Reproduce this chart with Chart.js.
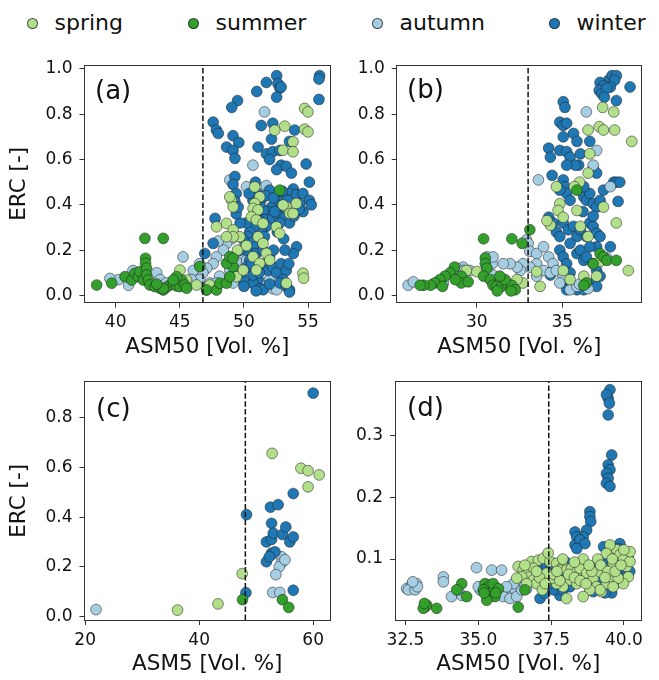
<!DOCTYPE html>
<html>
<head>
<meta charset="utf-8">
<script src="https://cdn.jsdelivr.net/npm/chart.js"></script>
<style>
html,body{margin:0;padding:0;background:#fff;width:659px;height:680px;overflow:hidden;font-family:'DejaVu Sans',sans-serif;}
canvas{position:absolute;}
.lab{position:absolute;font-size:26px;line-height:26px;color:#111;white-space:nowrap;}
.leg-m{position:absolute;width:11px;height:11px;border-radius:50%;box-sizing:border-box;border:0.7px solid rgba(30,30,30,0.75);}
.leg-t{position:absolute;font-size:22px;line-height:22px;color:#111;white-space:nowrap;}
</style>
</head>
<body>
<div id="legend"></div>
<canvas id="ca" width="345" height="337" style="left:0px;top:35px"></canvas>
<canvas id="cb" width="314" height="337" style="left:345px;top:35px"></canvas>
<canvas id="cc" width="345" height="328" style="left:0px;top:352px"></canvas>
<canvas id="cd" width="314" height="328" style="left:345px;top:352px"></canvas>
<div class="lab" style="left:95px;top:77px">(a)</div>
<div class="lab" style="left:407px;top:76px">(b)</div>
<div class="lab" style="left:96px;top:395px">(c)</div>
<div class="lab" style="left:407px;top:394px">(d)</div>
<script>
// ---------------- data ----------------
const seasons = ['spring', 'summer', 'autumn', 'winter'];

// panel (a): ASM50 vs ERC
const aSpring = [[54.73,0.825],[54.99,0.81],[53.18,0.747],[52.4,0.729],[54.73,0.734],[54.99,0.722],[53.83,0.678],[53.05,0.641],[50.84,0.479],[51.23,0.435],[50.84,0.406],[50.71,0.384],[51.1,0.377],[50.58,0.347],[50.97,0.333],[51.49,0.318],[49.03,0.421],[49.16,0.391],[48.9,0.435],[47.86,0.303],[48.64,0.318],[49.16,0.289],[49.68,0.259],[49.16,0.259],[48.64,0.259],[53.31,0.391],[53.57,0.362],[53.83,0.362],[53.05,0.399],[54.09,0.406],[52.53,0.303],[52.79,0.274],[51.1,0.259],[51.49,0.23],[51.75,0.186],[52.01,0.156],[50.71,0.171],[51.23,0.142],[50.97,0.112],[54.6,0.098],[54.65,0.076],[53.31,0.054],[49.42,0.083],[49.94,0.112],[46.3,0.046],[47.34,0.046],[45.01,0.112],[45.53,0.068],[53.83,0.634],[49.5,0.2],[50.2,0.22]];
const aSummer = [[38.52,0.046],[39.69,0.054],[40.73,0.083],[41.25,0.068],[41.5,0.098],[41.76,0.083],[41.89,0.105],[42.15,0.068],[42.28,0.252],[43.71,0.252],[42.33,0.164],[42.33,0.142],[42.41,0.12],[42.41,0.09],[42.54,0.068],[42.67,0.046],[43.06,0.039],[43.45,0.032],[43.71,0.024],[43.97,0.036],[44.23,0.046],[44.49,0.054],[44.75,0.042],[45.01,0.039],[45.14,0.068],[45.4,0.046],[45.53,0.032],[44.75,0.083],[44.49,0.068],[46.56,0.127],[47.08,0.024],[47.86,0.024],[48.12,0.054],[48.64,0.054],[48.9,0.083],[49.16,0.127],[48.64,0.142],[48.9,0.171],[49.16,0.164],[52.79,0.465],[43.7,0.03],[43.2,0.05]];
const aAutumn = [[51.6,0.81],[50.7,0.575],[48.9,0.51],[50.2,0.48],[51.75,0.485],[49.05,0.25],[48.65,0.23],[48.4,0.2],[47.85,0.17],[47.6,0.14],[47.1,0.12],[46.8,0.1],[46.55,0.07],[47.35,0.055],[48.1,0.085],[48.9,0.11],[49.15,0.14],[49.7,0.17],[50.2,0.155],[50.7,0.125],[48.9,0.07],[49.7,0.07],[47.85,0.055],[47.1,0.025],[49.15,0.055],[50.7,0.055],[51.75,0.055],[52.25,0.03],[52.55,0.025],[52.0,0.07],[45.25,0.17],[41.35,0.11],[40.2,0.07],[39.55,0.075],[41.0,0.045],[43.2,0.1],[43.45,0.07],[43.95,0.055],[46.05,0.11],[46.55,0.14],[45.9,0.07],[50.45,0.2],[48.0,0.24],[49.4,0.15]];
const aWinter = [[55.9,0.97],[55.85,0.955],[55.85,0.865],[52.55,0.97],[51.75,0.94],[52.65,0.935],[52.8,0.915],[52.55,0.875],[52.9,0.92],[51.0,0.9],[49.5,0.86],[49.05,0.83],[47.6,0.765],[47.85,0.73],[48.0,0.715],[51.35,0.75],[52.25,0.76],[53.95,0.73],[52.15,0.69],[51.1,0.655],[49.15,0.705],[49.6,0.675],[48.65,0.655],[49.15,0.64],[49.3,0.605],[53.55,0.68],[51.75,0.625],[52.25,0.635],[52.8,0.64],[52.0,0.6],[54.85,0.58],[52.9,0.575],[53.3,0.57],[52.55,0.555],[49.3,0.525],[49.15,0.49],[49.4,0.45],[55.1,0.5],[53.7,0.54],[53.85,0.47],[53.55,0.45],[54.1,0.445],[53.05,0.435],[54.6,0.45],[55.1,0.42],[54.6,0.37],[54.35,0.405],[55.25,0.4],[52.9,0.415],[52.55,0.4],[52.15,0.39],[51.9,0.37],[51.5,0.375],[51.25,0.405],[50.95,0.36],[50.7,0.345],[51.6,0.335],[52.25,0.34],[52.65,0.355],[52.9,0.36],[53.3,0.375],[53.2,0.345],[53.55,0.32],[52.8,0.32],[51.75,0.305],[51.35,0.29],[50.85,0.305],[50.45,0.28],[50.2,0.32],[50.3,0.26],[50.7,0.235],[50.95,0.215],[50.2,0.2],[50.45,0.155],[50.95,0.185],[51.5,0.2],[52.0,0.17],[51.35,0.14],[51.9,0.11],[52.25,0.125],[52.55,0.1],[52.9,0.14],[53.3,0.11],[53.05,0.07],[52.8,0.055],[53.3,0.04],[53.55,0.025],[51.1,0.07],[50.7,0.055],[51.25,0.03],[51.5,0.025],[50.95,0.02],[50.7,0.09],[50.2,0.125],[49.95,0.07],[49.7,0.32],[49.4,0.36],[49.3,0.415],[49.55,0.39],[47.75,0.34],[47.6,0.23],[49.7,0.2],[46.95,0.185],[54.1,0.215],[53.85,0.185],[53.55,0.015],[52.0,0.465],[51.5,0.435],[50.7,0.42],[51.1,0.45],[51.0,0.42],[51.7,0.44],[52.3,0.43],[53.0,0.46],[53.4,0.42],[52.4,0.37],[51.2,0.33],[53.9,0.35],[54.3,0.38],[52.6,0.28],[53.1,0.25],[51.6,0.26],[50.6,0.14],[51.2,0.1],[52.0,0.05],[52.3,0.2],[53.5,0.14],[50.0,0.04],[49.9,0.25],[50.9,0.5],[50.4,0.45],[49.8,0.1],[53.2,0.2]];
const aThreshold = 46.8;

// panel (b): ASM50 vs ERC
const bSpring = [[37.35,0.83],[38.0,0.81],[36.5,0.73],[37.15,0.745],[37.4,0.73],[38.05,0.73],[39.05,0.68],[36.6,0.625],[34.65,0.48],[34.85,0.405],[34.75,0.375],[35.05,0.345],[34.3,0.31],[34.1,0.33],[36.5,0.54],[37.4,0.39],[38.15,0.32],[38.85,0.11],[36.05,0.305],[36.5,0.26],[35.85,0.375],[33.5,0.105],[33.7,0.04],[35.05,0.11],[35.45,0.07],[32.7,0.055],[32.35,0.07],[36.25,0.085],[37.0,0.085],[30.0,0.105],[29.4,0.11],[36.0,0.5],[35.7,0.48],[37.2,0.15]];
const bSummer = [[30.4,0.25],[32.05,0.25],[32.65,0.23],[30.5,0.165],[30.5,0.14],[30.6,0.12],[30.4,0.085],[30.8,0.07],[30.95,0.045],[31.15,0.04],[31.45,0.04],[31.75,0.055],[32.05,0.045],[32.25,0.025],[31.65,0.07],[31.35,0.085],[28.7,0.125],[28.45,0.1],[28.15,0.085],[27.85,0.07],[27.55,0.055],[27.3,0.045],[26.9,0.045],[26.7,0.045],[29.1,0.085],[29.1,0.055],[28.75,0.07],[33.1,0.29],[37.2,0.185],[37.4,0.17],[37.6,0.155],[36.8,0.14],[36.4,0.055],[36.25,0.045],[38.15,0.155],[35.85,0.465],[28.0,0.04],[29.5,0.06],[32.0,0.02],[31.2,0.02]];
const bAutumn = [[36.4,0.81],[33.6,0.51],[37.0,0.64],[36.8,0.575],[37.8,0.48],[37.6,0.165],[32.9,0.245],[33.0,0.23],[33.1,0.195],[33.5,0.185],[33.9,0.215],[34.2,0.17],[34.45,0.14],[33.5,0.14],[33.9,0.11],[34.3,0.1],[34.65,0.11],[35.05,0.085],[34.85,0.055],[35.45,0.025],[35.85,0.04],[33.5,0.085],[33.1,0.125],[32.7,0.14],[32.55,0.11],[32.35,0.125],[31.95,0.14],[31.55,0.14],[31.15,0.07],[30.6,0.17],[30.9,0.14],[30.8,0.07],[30.95,0.09],[29.6,0.11],[29.2,0.125],[29.05,0.07],[26.0,0.045],[26.3,0.06],[28.85,0.12],[28.05,0.055],[29.25,0.11],[30.95,0.17],[36.0,0.05],[36.5,0.03]];
const bWinter = [[37.7,0.95],[37.9,0.97],[38.15,0.97],[38.05,0.95],[37.2,0.94],[37.4,0.925],[37.15,0.905],[37.3,0.89],[37.8,0.92],[37.6,0.915],[38.15,0.86],[38.95,0.92],[37.45,0.875],[35.05,0.855],[35.15,0.83],[34.85,0.765],[35.05,0.75],[35.25,0.76],[35.05,0.7],[35.65,0.715],[35.85,0.68],[34.2,0.65],[34.3,0.61],[34.85,0.64],[35.25,0.635],[35.45,0.61],[36.05,0.625],[35.95,0.575],[35.75,0.575],[35.25,0.575],[36.6,0.68],[36.8,0.56],[37.0,0.54],[34.4,0.53],[35.05,0.51],[35.15,0.48],[35.25,0.45],[34.85,0.465],[35.45,0.42],[35.85,0.48],[36.05,0.465],[36.25,0.435],[36.4,0.42],[36.6,0.45],[36.8,0.405],[37.0,0.39],[37.2,0.42],[37.4,0.465],[38.0,0.5],[38.15,0.5],[38.35,0.5],[38.25,0.415],[36.25,0.48],[34.2,0.345],[34.45,0.32],[34.65,0.28],[34.85,0.26],[35.05,0.32],[35.35,0.29],[35.65,0.305],[35.85,0.26],[36.05,0.29],[36.4,0.26],[36.6,0.32],[36.8,0.305],[37.0,0.275],[37.2,0.26],[37.0,0.215],[37.8,0.215],[36.8,0.35],[36.2,0.37],[34.85,0.2],[35.05,0.17],[35.25,0.14],[35.45,0.23],[35.85,0.185],[36.05,0.2],[36.25,0.155],[36.4,0.17],[36.6,0.215],[36.8,0.14],[37.0,0.11],[37.2,0.085],[35.45,0.1],[35.05,0.07],[35.45,0.055],[35.85,0.025],[36.25,0.025],[36.8,0.055],[35.25,0.025],[34.5,0.12],[34.3,0.09],[37.0,0.04]];
const bThreshold = 33.0;

// panel (c): ASM5 vs ERC
const cSpring = [[36.2,0.025],[43.3,0.05],[47.55,0.172],[52.8,0.657],[57.85,0.597],[59.1,0.587],[61.05,0.57],[59.1,0.522]];
const cSummer = [[47.6,0.067],[54.6,0.067],[55.7,0.036]];
const cAutumn = [[21.9,0.027],[53.1,0.252],[54.45,0.24],[54.45,0.215],[54.05,0.2],[53.45,0.168],[52.9,0.096],[54.15,0.096],[55.05,0.228]];
const cWinter = [[60.0,0.9],[48.3,0.41],[48.2,0.095],[56.5,0.495],[52.5,0.44],[53.85,0.45],[52.7,0.375],[51.8,0.3],[52.7,0.31],[53.0,0.335],[54.6,0.33],[55.2,0.36],[55.9,0.3],[56.5,0.32],[51.8,0.22],[52.7,0.255],[53.3,0.26],[56.5,0.105],[52.3,0.24]];
const cThreshold = 48.1;

// panel (d): ASM50 vs ERC
const dSpring = [[36.37,0.088],[36.54,0.082],[36.66,0.077],[36.77,0.071],[36.89,0.066],[37.0,0.06],[36.49,0.071],[36.32,0.069],[36.66,0.06],[36.83,0.096],[37.06,0.098],[37.23,0.101],[37.46,0.096],[37.69,0.093],[37.91,0.088],[37.8,0.082],[38.03,0.082],[38.2,0.085],[38.38,0.079],[38.49,0.085],[38.15,0.066],[37.91,0.055],[38.03,0.036],[37.69,0.06],[37.52,0.069],[37.35,0.077],[38.38,0.06],[38.72,0.077],[38.95,0.069],[39.06,0.055],[39.23,0.047],[39.4,0.06],[39.52,0.071],[39.29,0.085],[39.18,0.079],[39.63,0.093],[39.69,0.112],[39.75,0.115],[39.86,0.107],[39.98,0.099],[40.09,0.088],[40.21,0.096],[40.15,0.071],[39.98,0.06],[39.8,0.069],[39.63,0.055],[40.21,0.112],[39.52,0.123],[39.4,0.109],[39.18,0.05],[38.83,0.05],[38.6,0.039],[37.2,0.05],[37.4,0.11],[38.6,0.1],[39.1,0.1],[38.3,0.095],[37.9,0.1],[36.9,0.085],[37.1,0.07],[37.3,0.06],[37.6,0.075],[37.8,0.065],[38.1,0.075],[38.3,0.07],[38.5,0.065],[38.7,0.06],[38.9,0.08],[39.2,0.09],[39.45,0.08],[39.7,0.08],[39.9,0.09],[40.0,0.115],[39.6,0.1],[37.0,0.08],[36.6,0.09],[37.7,0.08],[38.8,0.09],[39.35,0.07]];
const dSummer = [[33.17,0.022],[33.23,0.025],[33.11,0.02],[33.57,0.02],[34.43,0.06],[34.6,0.039],[34.26,0.05],[35.23,0.06],[35.29,0.052],[35.4,0.058],[35.51,0.05],[35.34,0.039],[35.57,0.039],[35.29,0.033],[35.17,0.05],[35.51,0.06],[35.69,0.052],[36.37,0.022],[35.6,0.045],[35.2,0.045],[33.15,0.028],[36.6,0.05]];
const dAutumn = [[32.54,0.052],[32.71,0.058],[32.88,0.06],[32.6,0.05],[32.83,0.05],[32.91,0.055],[32.75,0.063],[33.8,0.071],[33.8,0.063],[34.08,0.039],[34.43,0.041],[34.94,0.086],[35.06,0.05],[35.46,0.082],[35.8,0.082],[35.86,0.05],[36.03,0.047],[36.14,0.05],[36.26,0.05],[35.86,0.039],[36.09,0.036],[36.32,0.039],[36.49,0.05],[36.66,0.052],[36.2,0.06],[35.97,0.055],[35.0,0.055],[34.3,0.05],[36.6,0.058]];
const dWinter = [[39.52,0.375],[39.46,0.361],[39.4,0.367],[39.5,0.353],[39.46,0.334],[39.58,0.269],[39.46,0.253],[39.52,0.245],[39.4,0.239],[39.46,0.231],[39.4,0.223],[39.52,0.218],[38.83,0.177],[38.83,0.169],[38.86,0.161],[38.72,0.147],[38.6,0.136],[38.32,0.144],[38.38,0.136],[38.32,0.123],[38.49,0.131],[38.66,0.125],[38.38,0.117],[37.06,0.088],[37.35,0.088],[37.46,0.082],[37.57,0.093],[37.12,0.036],[37.29,0.044],[37.8,0.041],[38.15,0.055],[37.91,0.069],[38.55,0.074],[38.6,0.088],[38.78,0.06],[38.95,0.047],[39.06,0.06],[39.75,0.104],[39.86,0.093],[39.98,0.107],[39.75,0.082],[39.98,0.077],[40.09,0.082],[40.15,0.104],[39.58,0.088],[39.63,0.071],[39.52,0.05],[39.23,0.066],[39.58,0.045],[39.86,0.125],[39.8,0.117],[38.0,0.095],[37.7,0.06],[37.6,0.05],[40.2,0.08],[39.3,0.12],[39.4,0.1],[37.2,0.07],[37.45,0.06],[37.9,0.05],[38.25,0.065],[38.9,0.055],[39.1,0.085],[39.35,0.045],[39.7,0.06],[40.1,0.095],[37.0,0.075]];
const dThreshold = 37.42;

// axis ticks and labels
const abYTicks = [0, 0.2, 0.4, 0.6, 0.8, 1.0];
const abYTickLabels = ['0.0', '0.2', '0.4', '0.6', '0.8', '1.0'];
const aXTicks = [40, 45, 50, 55];
const aXTickLabels = ['40', '45', '50', '55'];
const bXTicks = [30, 35];
const bXTickLabels = ['30', '35'];
const cXTicks = [20, 40, 60];
const cXTickLabels = ['20', '40', '60'];
const cYTicks = [0, 0.2, 0.4, 0.6, 0.8];
const cYTickLabels = ['0.0', '0.2', '0.4', '0.6', '0.8'];
const dXTicks = [32.5, 35, 37.5, 40];
const dXTickLabels = ['32.5', '35.0', '37.5', '40.0'];
const dYTicks = [0.1, 0.2, 0.3];
const dYTickLabels = ['0.1', '0.2', '0.3'];

// ---------------- styling ----------------
const COLORS = {spring: '#b2df8a', summer: '#33a02c', autumn: '#a6cee3', winter: '#1f78b4'};
const EDGE = 'rgba(30,30,30,0.75)';
const FRAME = '#333333';
const TXT = '#111111';
const FONT = "'DejaVu Sans', sans-serif";

// legend (HTML)
const legendCenters = [32, 193, 377, 554];
const legendEl = document.getElementById('legend');
seasons.forEach((s, i) => {
  const m = document.createElement('div');
  m.className = 'leg-m';
  m.style.left = (legendCenters[i] - 5.5) + 'px';
  m.style.top = '18px';
  m.style.background = COLORS[s];
  legendEl.appendChild(m);
  const t = document.createElement('div');
  t.className = 'leg-t';
  t.style.left = (legendCenters[i] + 22.5) + 'px';
  t.style.top = '12px';
  t.textContent = s;
  legendEl.appendChild(t);
});

function toPts(arr) { return arr.map(p => ({x: p[0], y: p[1]})); }

function makePanel(id, P) {
  const drawOrder = P.drawOrder; // first = top-most
  const datasets = [{
    type: 'line', label: 'threshold',
    data: [{x: P.threshold, y: P.yMin}, {x: P.threshold, y: P.yMax}],
    borderColor: '#111', borderWidth: 1.5, borderDash: [5.5, 2.4],
    pointRadius: 0, fill: false, showLine: true, xAxisID: 'x', yAxisID: 'y'
  }];
  drawOrder.forEach(s => {
    datasets.push({
      type: 'scatter', label: s, data: toPts(P.series[s]),
      backgroundColor: COLORS[s], borderColor: EDGE, borderWidth: 0.7,
      pointRadius: 5.4, pointHoverRadius: 5.4, xAxisID: 'x', yAxisID: 'y'
    });
  });
  const tickFont = {family: FONT, size: 17};
  const titleFont = {family: FONT, size: 21.5, lineHeight: 1};
  new Chart(document.getElementById(id), {
    type: 'scatter',
    data: {datasets},
    options: {
      responsive: false, animation: false, events: [], devicePixelRatio: 1,
      layout: {padding: {left: 0, top: P.padTop, right: P.padRight, bottom: 0}},
      plugins: {legend: {display: false}, tooltip: {enabled: false}},
      scales: {
        x: {
          type: 'linear', position: 'bottom', min: P.xMin, max: P.xMax, bounds: 'data',
          afterBuildTicks: s => { s.ticks = P.xTicks.map(v => ({value: v})); },
          afterFit: s => { s.height = P.xAxisH; },
          ticks: {autoSkip: false, maxRotation: 0, padding: 5, color: TXT, font: tickFont,
                  callback: (v, i) => P.xTickLabels[i]},
          grid: {display: true, drawOnChartArea: false, drawTicks: true, tickLength: 5, tickColor: FRAME, tickWidth: 1},
          border: {display: true, color: FRAME, width: 1},
          title: {display: true, text: P.xTitle, color: TXT, font: titleFont, padding: {top: 0, bottom: P.xTitlePadB}}
        },
        y: {
          type: 'linear', position: 'left', min: P.yMin, max: P.yMax, bounds: 'data',
          afterBuildTicks: s => { s.ticks = P.yTicks.map(v => ({value: v})); },
          afterFit: s => { s.width = P.yAxisW; },
          ticks: {autoSkip: false, padding: 7, color: TXT, font: tickFont,
                  callback: (v, i) => P.yTickLabels[i]},
          grid: {display: true, drawOnChartArea: false, drawTicks: true, tickLength: 5, tickColor: FRAME, tickWidth: 1},
          border: {display: true, color: FRAME, width: 1},
          title: {display: !!P.yTitle, text: P.yTitle || '', color: TXT, font: titleFont, padding: {top: 8.25, bottom: 0}}
        },
        x2: {
          type: 'linear', position: 'top', display: true, min: 0, max: 1,
          ticks: {display: false}, grid: {display: false, drawTicks: false},
          border: {display: true, color: FRAME, width: 1},
          afterFit: s => { s.height = 0; }
        },
        y2: {
          type: 'linear', position: 'right', display: true, min: 0, max: 1,
          ticks: {display: false}, grid: {display: false, drawTicks: false},
          border: {display: true, color: FRAME, width: 1},
          afterFit: s => { s.width = 0; }
        }
      }
    }
  });
}

makePanel('ca', {
  series: {spring: aSpring, summer: aSummer, autumn: aAutumn, winter: aWinter},
  drawOrder: ['summer', 'spring', 'winter', 'autumn'],
  threshold: aThreshold,
  xMin: 37.57, xMax: 56.71, yMin: -0.032, yMax: 1.017,
  xTicks: aXTicks, xTickLabels: aXTickLabels, yTicks: abYTicks, yTickLabels: abYTickLabels,
  xTitle: 'ASM50 [Vol. %]', yTitle: 'ERC [-]',
  padTop: 30, padRight: 15, yAxisW: 84.5, xAxisH: 69.3, xTitlePadB: 14.25
});
makePanel('cb', {
  series: {spring: bSpring, summer: bSummer, autumn: bAutumn, winter: bWinter},
  drawOrder: ['summer', 'spring', 'autumn', 'winter'],
  threshold: bThreshold,
  xMin: 25.33, xMax: 39.63, yMin: -0.032, yMax: 1.017,
  xTicks: bXTicks, xTickLabels: bXTickLabels, yTicks: abYTicks, yTickLabels: abYTickLabels,
  xTitle: 'ASM50 [Vol. %]', yTitle: null,
  padTop: 30, padRight: 17.3, yAxisW: 51.7, xAxisH: 69.3, xTitlePadB: 14.25
});
makePanel('cc', {
  series: {spring: cSpring, summer: cSummer, autumn: cAutumn, winter: cWinter},
  drawOrder: ['summer', 'winter', 'spring', 'autumn'],
  threshold: cThreshold,
  xMin: 19.88, xMax: 62.95, yMin: -0.015, yMax: 0.946,
  xTicks: cXTicks, xTickLabels: cXTickLabels, yTicks: cYTicks, yTickLabels: cYTickLabels,
  xTitle: 'ASM5 [Vol. %]', yTitle: 'ERC [-]',
  padTop: 29.7, padRight: 15, yAxisW: 84.5, xAxisH: 60, xTitlePadB: 5.25
});
makePanel('cd', {
  series: {spring: dSpring, summer: dSummer, autumn: dAutumn, winter: dWinter},
  drawOrder: ['summer', 'spring', 'winter', 'autumn'],
  threshold: dThreshold,
  xMin: 32.14, xMax: 40.61, yMin: 0.001, yMax: 0.388,
  xTicks: dXTicks, xTickLabels: dXTickLabels, yTicks: dYTicks, yTickLabels: dYTickLabels,
  xTitle: 'ASM50 [Vol. %]', yTitle: null,
  padTop: 29.7, padRight: 17.3, yAxisW: 50, xAxisH: 60, xTitlePadB: 5.25
});
</script>
</body>
</html>
